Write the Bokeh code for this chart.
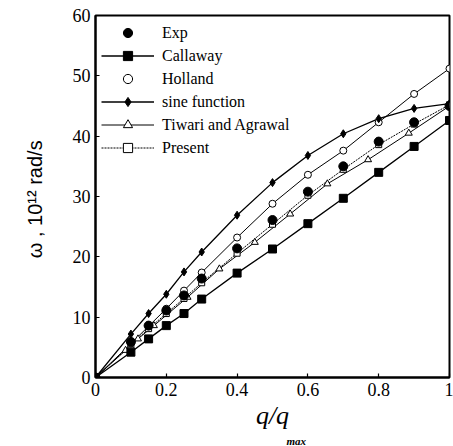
from bokeh.plotting import figure
from bokeh.models import Legend, LegendItem, Title, FixedTicker, Range1d
from bokeh.embed import file_html
from bokeh.resources import INLINE

# ---- data ----
q_grid = [0, 0.1, 0.15, 0.2, 0.25, 0.3, 0.4, 0.5, 0.6, 0.7, 0.8, 0.9, 1.0]
w_exp = [0, 5.9, 8.6, 11.1, 13.6, 16.4, 21.4, 26.1, 30.8, 35.0, 39.1, 42.3, 45.0]
w_callaway = [0, 4.2, 6.4, 8.6, 10.6, 13.0, 17.3, 21.3, 25.5, 29.7, 34.0, 38.3, 42.6]
w_holland = [0, 5.6, 8.5, 11.4, 14.4, 17.4, 23.2, 28.8, 33.6, 37.6, 42.3, 47.0, 51.2]
w_sine = [0, 7.2, 10.6, 13.8, 17.5, 20.8, 26.9, 32.3, 36.8, 40.4, 42.9, 44.6, 45.4]
q_tiwari = [0, 0.085, 0.12, 0.165, 0.26, 0.35, 0.45, 0.55, 0.655, 0.77, 0.885, 1.0]
w_tiwari = [0, 4.5, 6.4, 8.6, 13.3, 18.0, 22.4, 27.1, 32.1, 36.1, 40.5, 45.0]
w_present = [0, 5.4, 8.1, 10.6, 13.1, 15.7, 20.6, 25.4, 30.2, 34.5, 38.6, 42.0, 45.2]

x_ticks = [0, 0.2, 0.4, 0.6, 0.8, 1.0]
x_tick_labels = {0: "0", 0.2: "0.2", 0.4: "0.4", 0.6: "0.6", 0.8: "0.8", 1: "1"}
y_ticks = [0, 10, 20, 30, 40, 50, 60]

p = figure(width=453, height=446, output_backend="svg", toolbar_location=None,
           x_range=Range1d(0, 1), y_range=Range1d(0, 60),
           min_border_left=95, min_border_right=4, min_border_top=15, min_border_bottom=0)

p.xgrid.visible = False
p.ygrid.visible = False
p.outline_line_color = "black"
p.outline_line_width = 2
p.background_fill_color = "white"
p.border_fill_color = "white"

for ax in (p.xaxis[0], p.yaxis[0]):
    ax.axis_line_width = 2
    ax.axis_line_color = "black"
    ax.major_tick_in = 4
    ax.major_tick_out = 0
    ax.minor_tick_in = 0
    ax.minor_tick_out = 0
    ax.major_tick_line_width = 1.2
    ax.major_tick_line_color = "black"
    ax.major_label_text_font = "Liberation Serif"
    ax.major_label_text_font_size = "18px"
    ax.major_label_text_color = "black"
    ax.major_label_standoff = 5
    ax.axis_label_text_color = "black"

p.xaxis.ticker = FixedTicker(ticks=x_ticks)
p.xaxis.major_label_overrides = x_tick_labels
p.yaxis.ticker = FixedTicker(ticks=y_ticks)

p.yaxis.axis_label = "\u03c9 ,  10\u00b9\u00b2 rad/s"
p.yaxis.axis_label_text_font = "Liberation Sans"
p.yaxis.axis_label_text_font_style = "normal"
p.yaxis.axis_label_text_font_size = "20px"
p.yaxis.axis_label_standoff = 24

p.xaxis.axis_label = "q/q"
p.xaxis.axis_label_text_font = "Liberation Serif"
p.xaxis.axis_label_text_font_style = "italic"
p.xaxis.axis_label_text_font_size = "26px"
p.xaxis.axis_label_standoff = 2

sub = Title(text="max", align="left", offset=191, standoff=0,
            text_font="Liberation Serif", text_font_style="bold italic",
            text_font_size="11px", text_color="black")
p.add_layout(sub, "below")

# ---- series ----
r_pre_l = p.line(q_grid, w_present, line_color="black", line_width=1, line_dash="2 1")
r_tiw_l = p.line(q_tiwari, w_tiwari, line_color="black", line_width=1)
r_hol_l = p.line(q_grid, w_holland, line_color="black", line_width=1)
r_sin_l = p.line(q_grid, w_sine, line_color="black", line_width=1.3)
r_cal_l = p.line(q_grid, w_callaway, line_color="black", line_width=1.3)
r_hol_leg = p.line([], [], line_color="gray", line_width=1, line_dash="2 2")

r_pre_m = p.scatter(q_grid, w_present, marker="square", size=6, fill_color="white",
                    line_color="black", line_width=1)
r_tiw_m = p.scatter(q_tiwari, w_tiwari, marker="triangle", size=7, fill_color="white",
                    line_color="black", line_width=1)
r_hol_m = p.scatter(q_grid, w_holland, marker="circle", size=7, fill_color="white",
                    line_color="black", line_width=1)
r_sin_m = p.scatter(q_grid, w_sine, marker="diamond", size=8, fill_color="black",
                    line_color="black")
r_cal_m = p.scatter(q_grid, w_callaway, marker="square", size=8, fill_color="black",
                    line_color="black")
r_exp_m = p.scatter(q_grid, w_exp, marker="circle", size=9, fill_color="black",
                    line_color="black")

legend = Legend(items=[
    LegendItem(label="Exp", renderers=[r_exp_m]),
    LegendItem(label="Callaway", renderers=[r_cal_l, r_cal_m]),
    LegendItem(label="Holland", renderers=[r_hol_leg, r_hol_m]),
    LegendItem(label="sine function", renderers=[r_sin_l, r_sin_m]),
    LegendItem(label="Tiwari and Agrawal", renderers=[r_tiw_l, r_tiw_m]),
    LegendItem(label="Present", renderers=[r_pre_l, r_pre_m]),
], location="top_left")
legend.glyph_width = 53
legend.glyph_height = 23
legend.label_height = 23
legend.spacing = 0
legend.label_standoff = 8
legend.padding = 6
legend.margin = 6
legend.border_line_color = None
legend.background_fill_alpha = 0
legend.label_text_font = "Liberation Serif"
legend.label_text_font_size = "16px"
legend.label_text_color = "black"
p.add_layout(legend)

open("out.html", "w").write(file_html(p, INLINE))
